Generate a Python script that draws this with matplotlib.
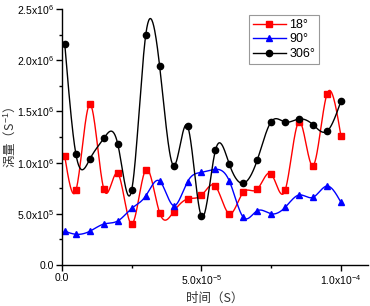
import numpy as np
import matplotlib
matplotlib.use('Agg')
import matplotlib.pyplot as plt
from matplotlib.ticker import MultipleLocator, FuncFormatter

plt.rcParams['font.family'] = ['Liberation Sans', 'Noto Sans CJK SC', 'DejaVu Sans']
plt.rcParams['mathtext.fontset'] = 'custom'
plt.rcParams['mathtext.rm'] = 'Liberation Sans'

# time (s)
t = np.array([1, 5, 10, 15, 20, 25, 30, 35, 40, 45, 50,
              55, 60, 65, 70, 75, 80, 85, 90, 95, 100]) * 1e-6

# vorticity (1/s)
w18 = np.array([1.06, 0.73, 1.57, 0.74, 0.895, 0.40, 0.93, 0.51, 0.52, 0.645, 0.68,
                0.77, 0.50, 0.71, 0.74, 0.89, 0.73, 1.40, 0.97, 1.67, 1.26]) * 1e6
w90 = np.array([0.33, 0.30, 0.33, 0.40, 0.43, 0.553, 0.674, 0.82, 0.58, 0.814, 0.905,
                0.934, 0.82, 0.466, 0.53, 0.50, 0.563, 0.684, 0.661, 0.771, 0.612]) * 1e6
w306 = np.array([2.155, 1.08, 1.035, 1.237, 1.18, 0.735, 2.243, 1.943, 0.97, 1.357, 0.475,
                 1.12, 0.983, 0.798, 1.025, 1.40, 1.396, 1.426, 1.37, 1.306, 1.60]) * 1e6


def spline(x, y, n=600):
    # natural cubic spline, like Origin's "spline" line connection
    h = np.diff(x)
    m = len(x)
    A = np.zeros((m, m))
    b = np.zeros(m)
    A[0, 0] = A[-1, -1] = 1
    for i in range(1, m - 1):
        A[i, i - 1] = h[i - 1]
        A[i, i] = 2 * (h[i - 1] + h[i])
        A[i, i + 1] = h[i]
        b[i] = 6 * ((y[i + 1] - y[i]) / h[i] - (y[i] - y[i - 1]) / h[i - 1])
    M = np.linalg.solve(A, b)
    xs = np.linspace(x[0], x[-1], n)
    k = np.clip(np.searchsorted(x, xs) - 1, 0, m - 2)
    dx1 = x[k + 1] - xs
    dx0 = xs - x[k]
    hk = h[k]
    ys = (M[k] * dx1**3 + M[k + 1] * dx0**3) / (6 * hk) \
        + (y[k] / hk - M[k] * hk / 6) * dx1 + (y[k + 1] / hk - M[k + 1] * hk / 6) * dx0
    return xs, ys


fig = plt.figure(figsize=(3.70, 3.06), dpi=100)
ax = fig.add_axes([62 / 370, 41 / 306, 306 / 370, 256 / 306])

series = [(w18, 'red', 's', '18°'), (w90, 'blue', '^', '90°'), (w306, 'black', 'o', '306°')]
for y, c, mk, lab in series:
    xs, ys = spline(t, y)
    ax.plot(xs, ys, color=c, lw=1.0)
    ax.plot(t, y, color=c, ls='none', marker=mk, ms=4.5)
    ax.plot([], [], color=c, lw=1.0, marker=mk, ms=4.5, label=lab)

ax.set_xlim(0, 1.097e-4)
ax.set_ylim(0, 2.5e6)

for s in ['top', 'right']:
    ax.spines[s].set_visible(False)
for s in ['left', 'bottom']:
    ax.spines[s].set_linewidth(1.0)


def sci(v, pos):
    if v == 0:
        return '0.0'
    e = int(np.floor(np.log10(abs(v))))
    return '%.1fx10$^{%d}$' % (v / 10**e, e)


ax.xaxis.set_major_locator(MultipleLocator(5e-5))
ax.xaxis.set_minor_locator(MultipleLocator(2.5e-5))
ax.yaxis.set_major_locator(MultipleLocator(5e5))
ax.yaxis.set_minor_locator(MultipleLocator(2.5e5))
ax.xaxis.set_major_formatter(FuncFormatter(sci))
ax.yaxis.set_major_formatter(FuncFormatter(sci))
ax.tick_params(which='major', direction='out', length=4, width=1, labelsize=7.5, pad=2)
ax.tick_params(which='minor', direction='out', length=2, width=1)

ax.set_xlabel('时间（S）', fontsize=9, color='#333333',
              family=['Noto Sans CJK SC', 'DejaVu Sans'], va='center')
ax.set_ylabel('涡量（S$^{-1}$）', fontsize=9, color='#333333',
              family=['Noto Sans CJK SC', 'DejaVu Sans'], va='center')
ax.xaxis.set_label_coords(0.5, (265 - 298) / 256)
ax.yaxis.set_label_coords((9 - 62) / 306, 0.5)

leg = ax.legend(loc='upper right', bbox_to_anchor=(0.86, 1.0), fontsize=9,
                fancybox=False, framealpha=1, edgecolor='#999999',
                handlelength=2.6, handletextpad=0.3, labelspacing=0.2,
                borderpad=0.3)
leg.get_frame().set_linewidth(0.8)

fig.savefig('out.png', dpi=100)
